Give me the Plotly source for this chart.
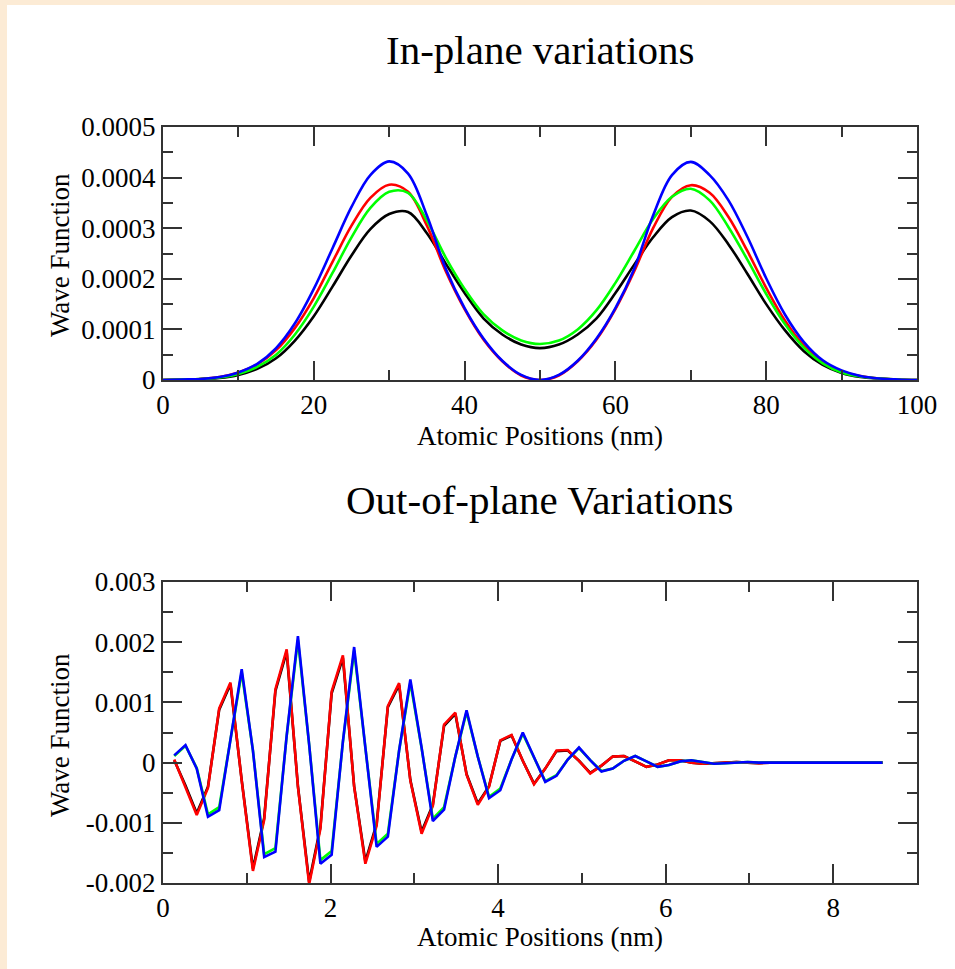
import plotly.graph_objects as go

# ---------------- Top panel data (In-plane) ----------------
x_in = [i * 2.5 for i in range(41)]
blue_in = [0.00, 0.01, 0.02, 0.06, 0.15, 0.32, 0.63, 1.12, 1.80, 2.61, 3.42, 4.05, 4.32, 4.08, 3.25, 2.20, 1.42, 0.82, 0.38, 0.10, 0.00,
           0.10, 0.38, 0.82, 1.42, 2.20, 3.25, 4.05, 4.31, 4.05, 3.55, 2.83, 2.01, 1.29, 0.75, 0.39, 0.19, 0.08, 0.03, 0.01, 0.00]
red_in = [0.00, 0.01, 0.02, 0.06, 0.15, 0.31, 0.59, 1.03, 1.62, 2.34, 3.05, 3.60, 3.86, 3.72, 3.05, 2.15, 1.40, 0.80, 0.37, 0.09, 0.00,
          0.09, 0.37, 0.80, 1.40, 2.15, 3.00, 3.62, 3.85, 3.70, 3.22, 2.55, 1.82, 1.17, 0.68, 0.36, 0.17, 0.08, 0.03, 0.01, 0.00]
green_in = [0.00, 0.01, 0.02, 0.05, 0.12, 0.26, 0.50, 0.90, 1.45, 2.12, 2.82, 3.40, 3.72, 3.70, 3.15, 2.42, 1.80, 1.30, 0.98, 0.78, 0.71,
            0.78, 1.00, 1.38, 1.92, 2.55, 3.18, 3.62, 3.78, 3.55, 3.02, 2.38, 1.70, 1.10, 0.64, 0.33, 0.15, 0.07, 0.03, 0.01, 0.00]
black_in = [0.00, 0.01, 0.02, 0.04, 0.10, 0.22, 0.43, 0.78, 1.26, 1.85, 2.46, 2.98, 3.28, 3.32, 2.90, 2.30, 1.72, 1.22, 0.90, 0.70, 0.63,
            0.70, 0.90, 1.22, 1.72, 2.28, 2.82, 3.22, 3.35, 3.14, 2.68, 2.10, 1.50, 0.98, 0.57, 0.30, 0.14, 0.06, 0.03, 0.01, 0.00]
scale_in = 1e-4

# ---------------- Bottom panel data (Out-of-plane) ----------------
x_out = [round(0.1342 * i, 4) for i in range(1, 65)]
red_out = [0.05, -0.40, -0.87, -0.42, 0.90, 1.33, -0.30, -1.80, -0.95, 1.22,
           1.88, -0.40, -2.02, -1.10, 1.18, 1.78, -0.40, -1.68, -1.05, 0.94,
           1.32, -0.30, -1.18, -0.72, 0.63, 0.83, -0.20, -0.70, -0.40, 0.37,
           0.46, 0.03, -0.36, -0.10, 0.20, 0.21, 0.03, -0.18, -0.05, 0.10,
           0.11, 0.02, -0.07, -0.03, 0.04, 0.04, 0.00, -0.02, -0.01, 0.01,
           0.01, 0.00, -0.01, 0.00, 0.00, 0.00, 0.00, 0.00, 0.00, 0.00,
           0.00, 0.00, 0.00, 0.00]
black_out = [0.04, -0.38, -0.84, -0.40, 0.88, 1.30, -0.29, -1.76, -0.92, 1.19,
             1.84, -0.39, -1.98, -1.07, 1.15, 1.74, -0.39, -1.64, -1.02, 0.92,
             1.29, -0.29, -1.15, -0.70, 0.61, 0.81, -0.19, -0.68, -0.39, 0.36,
             0.45, 0.03, -0.35, -0.10, 0.19, 0.20, 0.03, -0.17, -0.05, 0.10,
             0.11, 0.02, -0.07, -0.03, 0.04, 0.04, 0.00, -0.02, -0.01, 0.01,
             0.01, 0.00, -0.01, 0.00, 0.00, 0.00, 0.00, 0.00, 0.00, 0.00,
             0.00, 0.00, 0.00, 0.00]
blue_out = [0.12, 0.29, -0.10, -0.90, -0.79, 0.40, 1.55, 0.20, -1.57, -1.48,
            0.45, 2.10, 0.30, -1.68, -1.53, 0.35, 1.92, 0.25, -1.40, -1.23,
            0.20, 1.38, 0.25, -0.97, -0.78, 0.10, 0.87, 0.10, -0.59, -0.46,
            0.05, 0.50, 0.08, -0.32, -0.22, 0.05, 0.25, 0.04, -0.15, -0.10,
            0.03, 0.11, 0.02, -0.07, -0.04, 0.02, 0.04, 0.01, -0.02, -0.01,
            0.00, 0.01, 0.00, 0.00, 0.00, 0.00, 0.00, 0.00, 0.00, 0.00,
            0.00, 0.00, 0.00, 0.00]
green_out = [0.11, 0.28, -0.09, -0.86, -0.74, 0.40, 1.50, 0.20, -1.52, -1.42,
             0.44, 2.04, 0.30, -1.62, -1.47, 0.34, 1.86, 0.25, -1.35, -1.18,
             0.20, 1.33, 0.24, -0.93, -0.74, 0.10, 0.84, 0.10, -0.57, -0.43,
             0.05, 0.48, 0.08, -0.31, -0.21, 0.05, 0.24, 0.04, -0.14, -0.10,
             0.03, 0.11, 0.02, -0.07, -0.04, 0.02, 0.04, 0.01, -0.02, -0.01,
             0.00, 0.01, 0.00, 0.00, 0.00, 0.00, 0.00, 0.00, 0.00, 0.00,
             0.00, 0.00, 0.00, 0.00]
scale_out = 1e-3

# tick labels
in_yticks = [0, 0.0001, 0.0002, 0.0003, 0.0004, 0.0005]
in_ylabels = ["0", "0.0001", "0.0002", "0.0003", "0.0004", "0.0005"]
in_xticks = [0, 20, 40, 60, 80, 100]
out_yticks = [-0.002, -0.001, 0, 0.001, 0.002, 0.003]
out_ylabels = ["-0.002", "-0.001", "0", "0.001", "0.002", "0.003"]
out_xticks = [0, 2, 4, 6, 8]

colors = {"black": "#000000", "red": "#ff0000", "green": "#00ff00", "blue": "#0000ff"}

W, H = 955, 969
FONT = "Liberation Serif"

fig = go.Figure()
for name, vals in [("black", black_in), ("red", red_in), ("green", green_in), ("blue", blue_in)]:
    fig.add_trace(go.Scatter(x=x_in, y=[v * scale_in for v in vals], mode="lines",
                             line=dict(color=colors[name], width=2.6, shape="spline", smoothing=1.0),
                             xaxis="x", yaxis="y", showlegend=False))
for name, vals in [("black", black_out), ("red", red_out), ("green", green_out), ("blue", blue_out)]:
    fig.add_trace(go.Scatter(x=x_out, y=[v * scale_out for v in vals], mode="lines",
                             line=dict(color=colors[name], width=2.6),
                             xaxis="x2", yaxis="y2", showlegend=False))

def px_x(p):
    return p / W

def px_y(p):
    return 1 - p / H

common = dict(showgrid=False, zeroline=False, showline=True, linecolor="#333333", linewidth=2,
              mirror="ticks", ticks="inside", ticklen=19, tickwidth=1.5, tickcolor="#333333",
              automargin=False,
              tickfont=dict(family=FONT, size=27, color="#000000"))

def minor(dt):
    return dict(dtick=dt, tick0=0, ticks="inside", ticklen=10, tickwidth=1.5, tickcolor="#333333")

xdom = [px_x(163), px_x(917)]
fig.update_layout(
    width=W, height=H, autosize=False,
    margin=dict(l=0, r=0, t=0, b=0, pad=0),
    paper_bgcolor="#fcebd5",
    plot_bgcolor="#ffffff",
    xaxis=dict(domain=xdom, range=[0, 100], tickvals=in_xticks, anchor="y", minor=minor(10), **common),
    yaxis=dict(domain=[px_y(380), px_y(127)], range=[0, 0.0005], tickvals=in_yticks, ticktext=in_ylabels,
               anchor="x", minor=minor(0.00005), **common),
    xaxis2=dict(domain=xdom, range=[0, 9], tickvals=out_xticks, anchor="y2", minor=minor(1), **common),
    yaxis2=dict(domain=[px_y(883), px_y(582)], range=[-0.002, 0.003], tickvals=out_yticks, ticktext=out_ylabels,
                anchor="x2", minor=minor(0.0005), **common),
    shapes=[dict(type="rect", xref="paper", yref="paper", x0=px_x(7), x1=1.0, y0=0, y1=px_y(5),
                 fillcolor="#ffffff", line=dict(width=0), layer="below")],
)

ann = [
    dict(text="In-plane variations", x=px_x(540), y=px_y(50), size=41, angle=0),
    dict(text="Out-of-plane Variations", x=px_x(540), y=px_y(500), size=41, angle=0),
    dict(text="Atomic Positions (nm)", x=px_x(540), y=px_y(436), size=27, angle=0),
    dict(text="Atomic Positions (nm)", x=px_x(540), y=px_y(937), size=27, angle=0),
    dict(text="Wave Function", x=px_x(60), y=px_y(255), size=27, angle=-90),
    dict(text="Wave Function", x=px_x(60), y=px_y(735), size=27, angle=-90),
]
for a in ann:
    fig.add_annotation(text=a["text"], x=a["x"], y=a["y"], xref="paper", yref="paper",
                       showarrow=False, textangle=a["angle"], xanchor="center", yanchor="middle",
                       font=dict(family=FONT, size=a["size"], color="#000000"))

fig.write_html("out.html")
